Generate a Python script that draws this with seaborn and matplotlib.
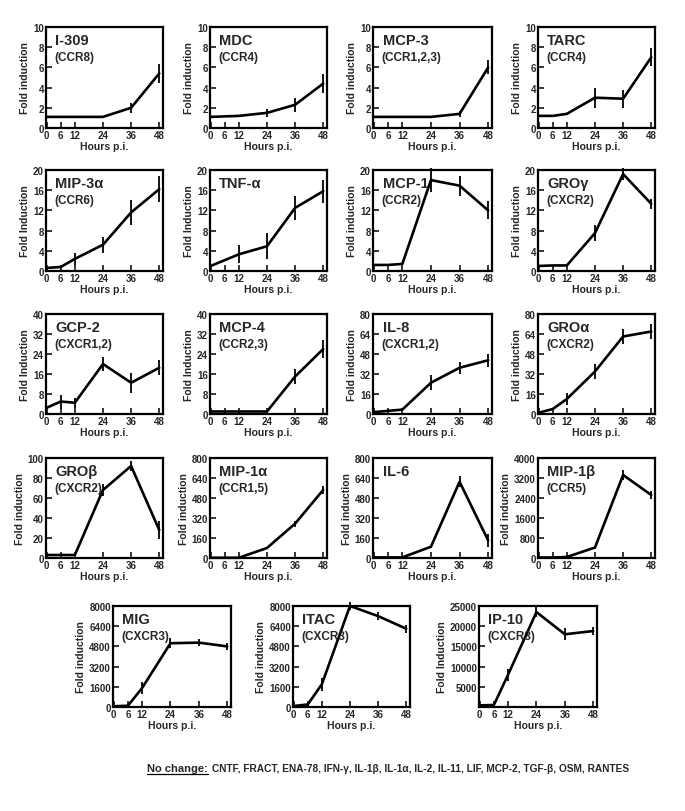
import numpy as np
import pandas as pd
import matplotlib
matplotlib.use("Agg")
import matplotlib.pyplot as plt
import seaborn as sns

sns.set_style("ticks")
plt.rcParams['font.family'] = ['Liberation Sans', 'DejaVu Sans']
plt.rcParams['font.weight'] = 'bold'

########################################
# 数据
########################################
hours = [0, 6, 12, 24, 36, 48]
hours_tnf = [0, 12, 24, 36, 48]

i309_y = [1.1, 1.1, 1.1, 1.1, 2.0, 5.4]
i309_err = [0, 0, 0, 0, 0.5, 0.9]
mdc_y = [1.1, 1.15, 1.2, 1.5, 2.3, 4.4]
mdc_err = [0, 0, 0, 0.4, 0.7, 0.9]
mcp3_y = [1.1, 1.1, 1.1, 1.1, 1.4, 6.0]
mcp3_err = [0, 0, 0, 0, 0.3, 0.7]
tarc_y = [1.2, 1.2, 1.4, 3.0, 2.9, 7.0]
tarc_err = [0, 0, 0, 1.0, 0.9, 0.9]

mip3a_y = [0.6, 0.8, 2.4, 5.2, 11.6, 16.2]
mip3a_err = [0, 0, 1.2, 1.6, 2.4, 2.6]
tnfa_y = [1.0, 3.3, 4.9, 12.5, 15.8]
tnfa_err = [0, 1.8, 2.6, 2.4, 2.3]
mcp1_y = [1.2, 1.2, 1.4, 18.0, 16.9, 12.0]
mcp1_err = [0, 0, 0, 2.4, 2.0, 1.8]
grog_y = [1.0, 1.1, 1.1, 7.5, 19.2, 13.3]
grog_err = [0, 0, 0, 1.6, 1.2, 1.0]

gcp2_y = [2.5, 5.0, 4.5, 20.0, 12.5, 18.5]
gcp2_err = [0, 2.8, 2.0, 2.8, 4.0, 3.0]
mcp4_y = [1.0, 1.0, 1.0, 1.0, 15.0, 26.0]
mcp4_err = [0, 0, 0, 0, 3.0, 3.5]
il8_y = [1.5, 2.5, 3.5, 25.0, 37.0, 43.0]
il8_err = [0, 0, 0, 6.0, 5.0, 5.0]
groa_y = [1.0, 4.0, 12.0, 34.0, 62.0, 66.0]
groa_err = [0, 0, 5.0, 6.0, 6.0, 6.0]

grob_y = [3, 3, 3, 68, 92, 28]
grob_err = [0, 0, 0, 6, 5, 9]
mip1a_y = [2, 2, 2, 80, 275, 545]
mip1a_err = [0, 0, 0, 10, 25, 35]
il6_y = [5, 5, 5, 90, 610, 140]
il6_err = [0, 0, 0, 8, 45, 50]
mip1b_y = [20, 20, 40, 420, 3320, 2520]
mip1b_err = [0, 0, 0, 60, 200, 150]

mig_y = [60, 100, 1500, 5050, 5100, 4800]
mig_err = [0, 0, 500, 400, 300, 300]
itac_y = [80, 200, 1800, 8000, 7200, 6200]
itac_err = [0, 0, 500, 300, 300, 300]
ip10_y = [400, 500, 8000, 23500, 18000, 18800]
ip10_err = [0, 0, 1500, 1200, 1500, 1000]

# 面板: (名称, 受体, x, y, err, y刻度, y轴标签)
panels = [
    ("I-309", "(CCR8)", hours, i309_y, i309_err, [0, 2, 4, 6, 8, 10], "Fold induction"),
    ("MDC", "(CCR4)", hours, mdc_y, mdc_err, [0, 2, 4, 6, 8, 10], "Fold induction"),
    ("MCP-3", "(CCR1,2,3)", hours, mcp3_y, mcp3_err, [0, 2, 4, 6, 8, 10], "Fold induction"),
    ("TARC", "(CCR4)", hours, tarc_y, tarc_err, [0, 2, 4, 6, 8, 10], "Fold induction"),
    ("MIP-3α", "(CCR6)", hours, mip3a_y, mip3a_err, [0, 4, 8, 12, 16, 20], "Fold Induction"),
    ("TNF-α", "", hours_tnf, tnfa_y, tnfa_err, [0, 4, 8, 12, 16, 20], "Fold Induction"),
    ("MCP-1", "(CCR2)", hours, mcp1_y, mcp1_err, [0, 4, 8, 12, 16, 20], "Fold induction"),
    ("GROγ", "(CXCR2)", hours, grog_y, grog_err, [0, 4, 8, 12, 16, 20], "Fold induction"),
    ("GCP-2", "(CXCR1,2)", hours, gcp2_y, gcp2_err, [0, 8, 16, 24, 32, 40], "Fold Induction"),
    ("MCP-4", "(CCR2,3)", hours, mcp4_y, mcp4_err, [0, 8, 16, 24, 32, 40], "Fold Induction"),
    ("IL-8", "(CXCR1,2)", hours, il8_y, il8_err, [0, 16, 32, 48, 64, 80], "Fold induction"),
    ("GROα", "(CXCR2)", hours, groa_y, groa_err, [0, 16, 32, 48, 64, 80], "Fold induction"),
    ("GROβ", "(CXCR2)", hours, grob_y, grob_err, [0, 20, 40, 60, 80, 100], "Fold induction"),
    ("MIP-1α", "(CCR1,5)", hours, mip1a_y, mip1a_err, [0, 160, 320, 480, 640, 800], "Fold induction"),
    ("IL-6", "", hours, il6_y, il6_err, [0, 160, 320, 480, 640, 800], "Fold induction"),
    ("MIP-1β", "(CCR5)", hours, mip1b_y, mip1b_err, [0, 800, 1600, 2400, 3200, 4000], "Fold induction"),
    ("MIG", "(CXCR3)", hours, mig_y, mig_err, [0, 1600, 3200, 4800, 6400, 8000], "Fold induction"),
    ("ITAC", "(CXCR3)", hours, itac_y, itac_err, [0, 1600, 3200, 4800, 6400, 8000], "Fold induction"),
    ("IP-10", "(CXCR3)", hours, ip10_y, ip10_err, [5000, 10000, 15000, 20000, 25000], "Fold Induction"),
]

no_change = ("CNTF, FRACT, ENA-78, IFN-γ, IL-1β, IL-1α, IL-2, IL-11, LIF, "
             "MCP-2, TGF-β, OSM, RANTES")

########################################
# 版面 (像素)
########################################
W, H = 685, 812
rows_px = [(28, 129), (171, 272), (315, 415), (459, 559)]
cols_px = [(46, 163), (210, 327), (373, 492), (538, 655)]
row5_px = (607, 708)
cols5_px = [(113, 231), (293, 410), (479, 597)]

boxes = []
for (t, b) in rows_px:
    for (l, r) in cols_px:
        boxes.append((l, t, r, b))
for (l, r) in cols5_px:
    boxes.append((l, row5_px[0], r, row5_px[1]))

fig = plt.figure(figsize=(W / 100, H / 100), dpi=100)

for (name, rec, xs, ys, errs, yt, ylab), (l, t, r, b) in zip(panels, boxes):
    ax = fig.add_axes([l / W, 1 - b / H, (r - l) / W, (b - t) / H])
    df = pd.DataFrame({"h": xs, "v": ys})
    sns.lineplot(data=df, x="h", y="v", ax=ax, color="black", linewidth=1.9,
                 clip_on=False)
    # 误差棒 (无帽)
    xe = [x for x, e in zip(xs, errs) if e > 0]
    ye = [y for y, e in zip(ys, errs) if e > 0]
    ee = [e for e in errs if e > 0]
    ax.errorbar(xe, ye, yerr=ee, fmt="none", ecolor="black", elinewidth=1.3,
                capsize=0, clip_on=False)
    top = yt[-1]
    ax.set_xlim(-0.3, 49.6)
    ax.set_ylim(0, top)
    ax.set_xticks(hours)
    ax.set_yticks(yt)
    ax.tick_params(direction="in", length=4, width=1.3, labelsize=7, pad=1.5)
    for lab in ax.get_xticklabels() + ax.get_yticklabels():
        lab.set_fontweight("bold")
    for s in ax.spines.values():
        s.set_visible(True)
        s.set_linewidth(1.6)
        s.set_color("black")
    ax.set_xlabel("Hours p.i.", fontsize=7.5, fontweight="bold", labelpad=1)
    ax.set_ylabel(ylab, fontsize=7.5, fontweight="bold", labelpad=2)
    ax.text(0.08, 0.87, name, transform=ax.transAxes, fontsize=10.5,
            fontweight="bold", va="center", ha="left")
    if rec:
        ax.text(0.07, 0.70, rec, transform=ax.transAxes, fontsize=8.5,
                fontweight="bold", va="center", ha="left")

# 底部说明
y_foot = 1 - 772 / H
t1 = fig.text(147 / W, y_foot, "No change:", fontsize=8, fontweight="bold",
              va="baseline", ha="left")
fig.canvas.draw()
bb = t1.get_window_extent()
fig.text(bb.x1 / W + 4 / W, y_foot, no_change, fontsize=7.3, fontweight="bold",
         va="baseline", ha="left")
fig.add_artist(plt.Line2D([bb.x0 / W, bb.x1 / W], [y_foot - 2.5 / H, y_foot - 2.5 / H],
                          color="black", linewidth=0.9, transform=fig.transFigure))

fig.savefig("out.png", dpi=100, facecolor="white")
